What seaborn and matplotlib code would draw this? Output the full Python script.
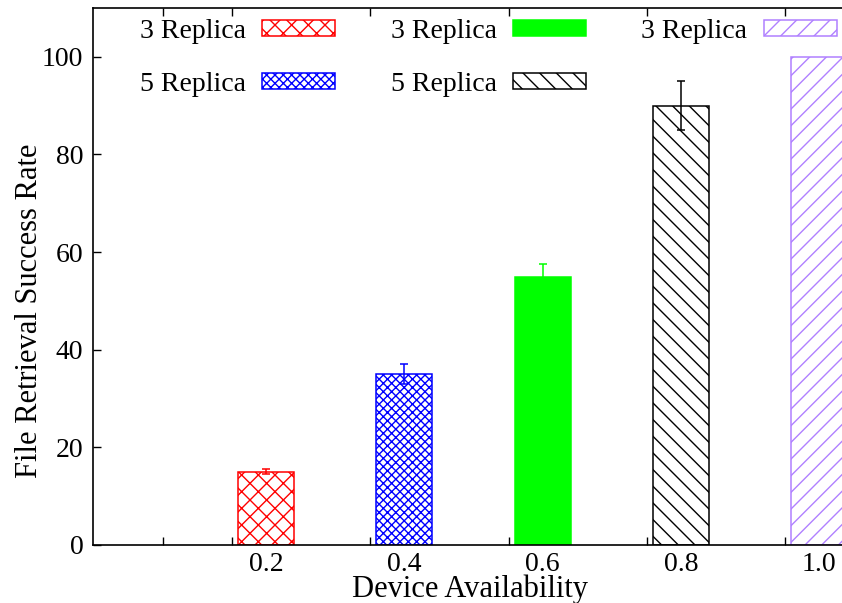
import matplotlib
matplotlib.use("Agg")
import matplotlib.pyplot as plt
from matplotlib.patches import Patch
import pandas as pd
import seaborn as sns

# values
availability = [0.2, 0.4, 0.6, 0.8, 1.0]
success_rate = [15, 35, 55, 90, 100]
error = [0.5, 2.0, 2.5, 5.0, 0.0]
series = ["s1", "s2", "s3", "s4", "s5"]
legend_labels = ["3 Replica", "5 Replica", "3 Replica", "5 Replica", "3 Replica"]
tick_labels = ["0.2", "0.4", "0.6", "0.8", "1.0"]

colors = ["#ff0000", "#0000ff", "#00ff00", "#000000", "#b080ff"]
hatches = ["xx", "xxxx", "", "\\\\", "//"]
fills = ["white", "white", "#00ff00", "white", "white"]

df = pd.DataFrame({"availability": availability, "rate": success_rate,
                   "series": series})

sns.set_style("ticks")
plt.rcParams["font.family"] = ["Liberation Serif", "DejaVu Serif"]
plt.rcParams["hatch.linewidth"] = 1.0
plt.rcParams["text.color"] = "black"
plt.rcParams["axes.labelcolor"] = "black"
plt.rcParams["xtick.color"] = "black"
plt.rcParams["ytick.color"] = "black"

fig = plt.figure(figsize=(8.42, 6.03), dpi=100)
ax = fig.add_axes([93 / 842, 1 - 545 / 603, 1 - 93 / 842, (545 - 8) / 603])

sns.barplot(data=df, x="availability", y="rate", hue="series",
            hue_order=series, palette=dict(zip(series, colors)),
            native_scale=True, dodge=False, width=0.405, legend=False,
            errorbar=None, ax=ax)

# style each bar like the gnuplot original
for p in ax.patches:
    cx = p.get_x() + p.get_width() / 2
    i = min(range(len(availability)), key=lambda k: abs(availability[k] - cx))
    p.set_facecolor(fills[i])
    p.set_edgecolor(colors[i])
    p.set_hatch(hatches[i])
    p.set_linewidth(1.1)

for i in range(len(availability)):
    if error[i] > 0:
        ax.errorbar(availability[i], success_rate[i], yerr=error[i],
                    fmt="none", ecolor=colors[i], elinewidth=1.1,
                    capsize=3, capthick=1.1, zorder=5)

ax.set_xlim(-0.05, 1.033)
ax.set_ylim(0, 110)

ax.set_xticks(availability)
ax.set_xticklabels(tick_labels)
ax.set_xticks([0.051, 0.151, 0.351, 0.551, 0.751, 0.951], minor=True)
ax.tick_params(axis="x", which="major", length=0, labelsize=20, pad=5)
ax.tick_params(axis="x", which="minor", direction="in", length=6,
               width=1, top=True, bottom=True)
ax.set_yticks([0, 20, 40, 60, 80, 100])
ax.tick_params(axis="y", direction="in", length=6, width=1, labelsize=20,
               pad=7)

for s in ["left", "bottom", "top"]:
    ax.spines[s].set_linewidth(1.2)
    ax.spines[s].set_color("black")
ax.spines["right"].set_visible(False)

ax.set_xlabel("Device Availability", fontsize=22)
ax.xaxis.set_label_coords(0.503, -0.055)
ax.set_ylabel("File Retrieval Success Rate", fontsize=22)
ax.yaxis.set_label_coords(-0.065, 0.436)

handles = [Patch(facecolor=fills[i], edgecolor=colors[i], hatch=hatches[i],
                 linewidth=1.1) for i in range(len(series))]
fig.legend(handles, legend_labels, ncol=3, markerfirst=False, frameon=False,
           loc="upper left", bbox_to_anchor=(140 / 842, 1 - 19 / 603),
           fontsize=20, handlelength=2.63, handleheight=0.47,
           handletextpad=0.58, columnspacing=2.0, labelspacing=1.0,
           borderpad=0, borderaxespad=0)

fig.savefig("out.png", dpi=100)
